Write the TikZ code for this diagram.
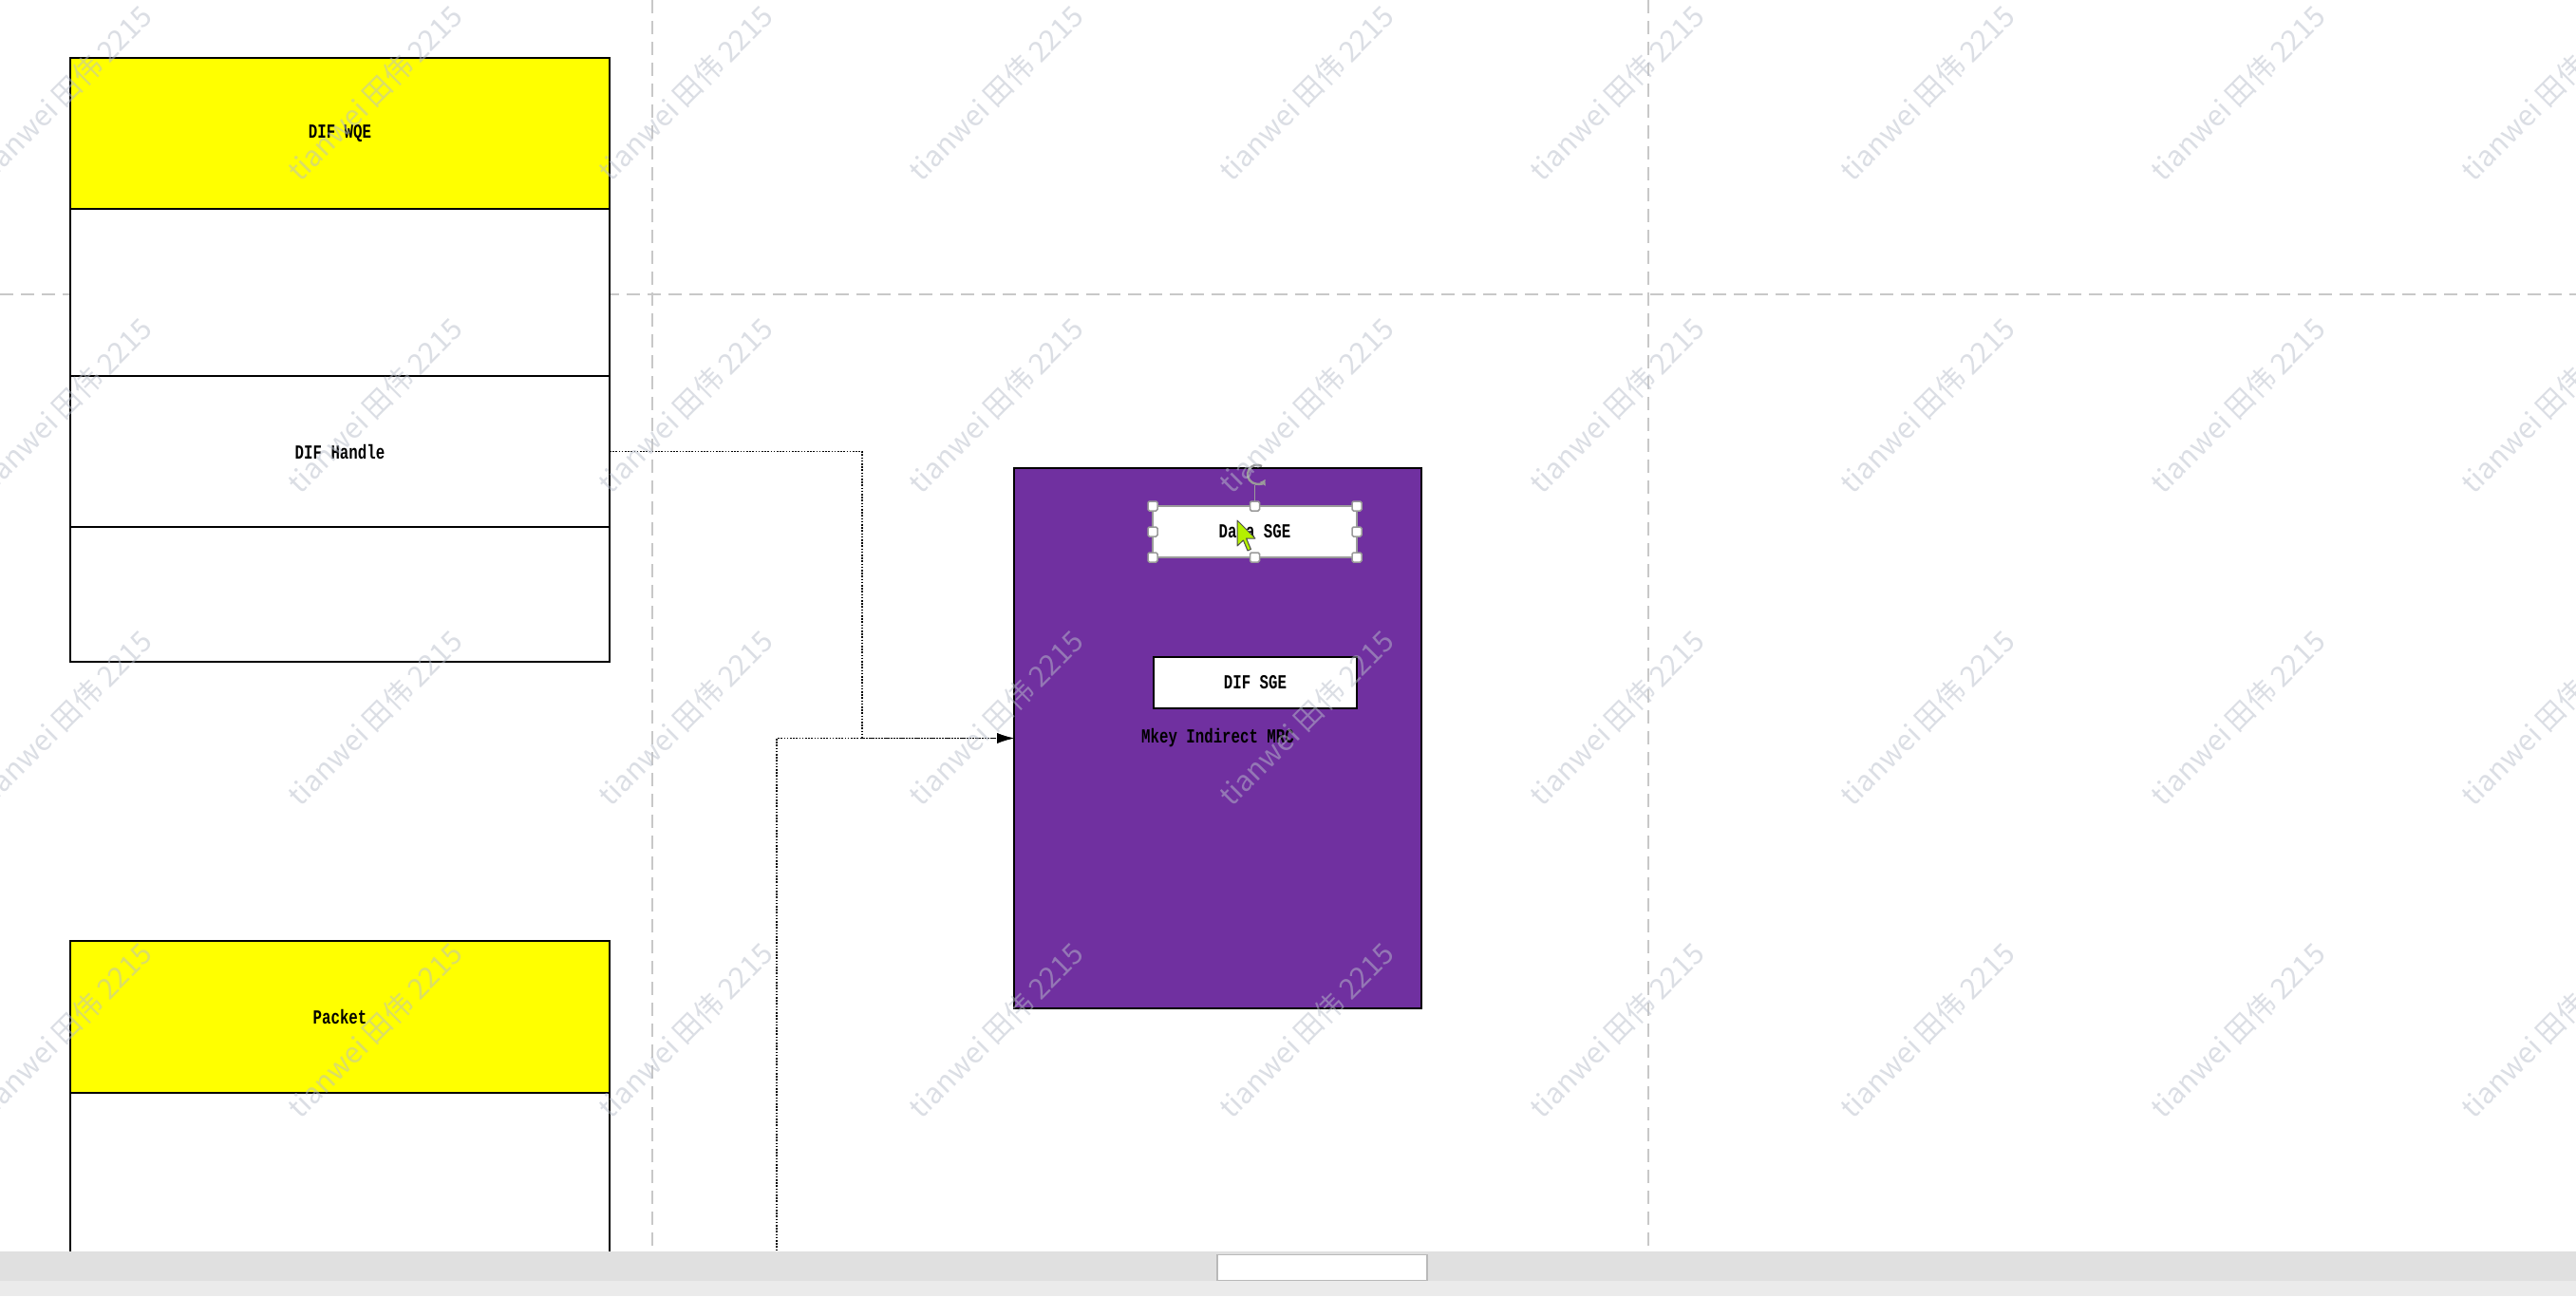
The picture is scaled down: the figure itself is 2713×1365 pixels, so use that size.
\documentclass[tikz,border=0pt]{standalone}
\usepackage{fontspec}
\newfontfamily\cjk{Noto Sans CJK SC}
\newfontfamily\boxfont[FakeStretch=0.75]{Liberation Mono}
\usetikzlibrary{arrows.meta}
\definecolor{mrcpurple}{HTML}{7030A0}
\definecolor{hdryellow}{HTML}{FFFF00}
\definecolor{guide}{HTML}{C8C8C8}
\definecolor{wmgray}{HTML}{B8BECB}
\definecolor{cursorgreen}{HTML}{B4F000}
\definecolor{barband}{HTML}{E0E0E0}
\definecolor{barbase}{HTML}{EBEBEB}
\definecolor{handlegray}{HTML}{9A9A9A}
\begin{document}
\begin{tikzpicture}[x=1pt,y=-1pt,
  every node/.style={inner sep=0pt,outer sep=0pt,font=\boxfont\bfseries\fontsize{21}{25}\selectfont},
  cell/.style={draw=black,line width=2pt,rectangle,fill=white,minimum width=568pt},
  hdr/.style={cell,fill=hdryellow},
  sge/.style={draw=black,line width=2pt,fill=white,minimum width=214pt,minimum height=54pt},
  selbox/.style={draw=handlegray,line width=1.5pt,fill=white,minimum width=215pt,minimum height=54pt},
  handle/.style={draw=handlegray,line width=1.5pt,fill=white,minimum width=10pt,minimum height=10pt,rounded corners=1.5pt},
  guideline/.style={draw=guide,line width=2pt,dash pattern=on 14pt off 8pt},
  link/.style={draw=black,line width=1.6pt,dash pattern=on 1.6pt off 1.6pt},
  tip/.style={-{Latex[length=18pt,width=11pt]}},
  wm/.style={rotate=45,font=\cjk\fontsize{30}{34}\selectfont,text=wmgray,text opacity=0.5}
]
% page
\fill[white] (0,0) rectangle (2713,1365);
\useasboundingbox (0,0) rectangle (2713,1365);

% guide lines
\coordinate (gh1) at (0,310);
\coordinate (gh2) at (2713,310);
\coordinate (gv1a) at (687,0);
\coordinate (gv1b) at (687,1318);
\coordinate (gv2a) at (1736,0);
\coordinate (gv2b) at (1736,1318);
\draw[guideline] (gh1) -- (gh2);
\draw[guideline] (gv1a) -- (gv1b);
\draw[guideline] (gv2a) -- (gv2b);

% DIF WQE table
\node[hdr,minimum height=159pt] (wqe) at (358,140.5) {DIF WQE};
\node[cell,minimum height=176pt] (blank1) at (358,308) {};
\node[cell,minimum height=159pt] (hdl) at (358,475.5) {DIF Handle};
\node[cell,minimum height=142pt] (blank2) at (358,626) {};

% Packet table
\node[hdr,minimum height=160pt] (pkt) at (358,1071) {Packet};
\node[cell,minimum height=180pt] (pktbody) at (358,1241) {};

% MRC
\node[draw=black,line width=2pt,fill=mrcpurple,minimum width=429pt,minimum height=569pt] (mrc) at (1282.5,777.5) {Mkey Indirect MRC};
\node[sge] (difsge) at (1322,719) {DIF SGE};
\node[selbox] (datasge) at (1321.5,560) {Data SGE};

% selection handles
\node[handle] (h1) at (1214,533) {};
\node[handle] (h2) at (1321.5,533) {};
\node[handle] (h3) at (1429,533) {};
\node[handle] (h4) at (1214,560) {};
\node[handle] (h5) at (1429,560) {};
\node[handle] (h6) at (1214,587) {};
\node[handle] (h7) at (1321.5,587) {};
\node[handle] (h8) at (1429,587) {};
\coordinate (rot) at (1321.5,511);
\draw[handlegray,line width=1.5pt] (h2.north) -- (rot);
\draw[handlegray,line width=2.4pt,-{Latex[length=6pt,width=8pt]}] (1329,491) arc[start angle=-60,end angle=-330,radius=10];

% cursor
\fill[cursorgreen,draw=black!70,line width=1pt,line join=round]
  (1303,548) -- ++(0,27) -- ++(6.4,-6) -- ++(4.6,11) -- ++(3.4,-1.6) -- ++(-4.8,-11.4) -- ++(9.4,0) -- cycle;

% connectors
\coordinate (jn) at (908,777.5);
\coordinate (src2) at (818,1330);
\draw[link,tip] (hdl.east) -| (jn) -- (mrc.west);
\draw[link,tip] (src2) |- (mrc.west);

% watermarks
\foreach \i in {0,...,8}{
  \foreach \j in {0,...,3}{
    \node[wm] (wm\i-\j) at ({68+327*\i},{98+329*\j}) {tianwei 田伟 2215};
  }
}

% scrollbar
\node[fill=barbase,minimum width=2713pt,minimum height=17pt] (sbase) at (1356.5,1356.5) {};
\node[fill=barband,minimum width=2713pt,minimum height=31pt] (sband) at (1356.5,1333.5) {};
\node[draw=gray!55,line width=1.5pt,fill=white,minimum width=221pt,minimum height=27pt] (sthumb) at (1392.5,1335) {};
\end{tikzpicture}
\end{document}
